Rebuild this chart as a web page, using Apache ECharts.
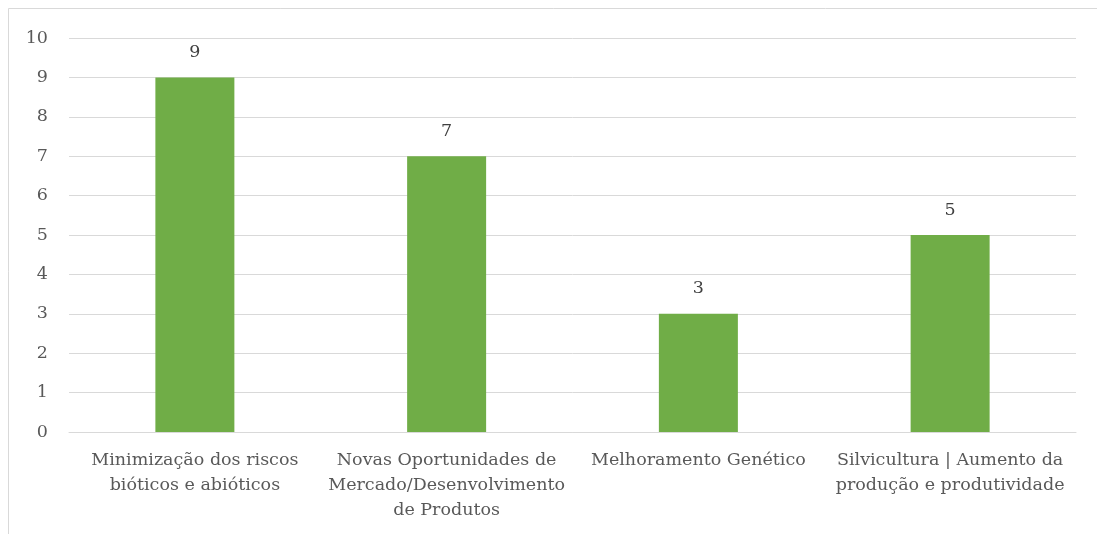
<!DOCTYPE html>
<html>
<head>
<meta charset="utf-8">
<script src="https://cdn.jsdelivr.net/npm/echarts@6/dist/echarts.min.js"></script>
<style>html,body{margin:0;padding:0;background:#fff;}#c{width:1097px;height:534px;}</style>
</head>
<body>
<div id="c"></div>
<script>
const categories = [
  "Minimização dos riscos\nbióticos e abióticos",
  "Novas Oportunidades de\nMercado/Desenvolvimento\nde Produtos",
  "Melhoramento Genético",
  "Silvicultura | Aumento da\nprodução e produtividade"
];
const values = [9, 7, 3, 5];
const yTicks = {min: 0, max: 10, interval: 1};

const font = "'DejaVu Serif', 'Liberation Serif', serif";
const chart = echarts.init(document.getElementById('c'), null, {renderer: 'canvas'});
chart.setOption({
  animation: false,
  backgroundColor: '#fff',
  graphic: [{
    type: 'rect', silent: true,
    shape: {x: 8.5, y: 8.5, width: 1200, height: 600},
    style: {fill: null, stroke: '#d9d9d9', lineWidth: 1}
  }],
  grid: {left: 69, right: 21, top: 38, bottom: 102},
  xAxis: {
    type: 'category',
    data: categories,
    axisLine: {show: true, lineStyle: {color: '#d9d9d9', width: 1}},
    axisTick: {show: false},
    axisLabel: {color: '#595959', fontFamily: font, fontSize: 17.5, lineHeight: 25, margin: 16, interval: 0}
  },
  yAxis: {
    type: 'value',
    min: yTicks.min, max: yTicks.max, interval: yTicks.interval,
    axisLine: {show: false},
    axisTick: {show: false},
    splitLine: {lineStyle: {color: '#d9d9d9', width: 1}},
    axisLabel: {color: '#595959', fontFamily: font, fontSize: 17.5, margin: 21}
  },
  series: [{
    type: 'bar',
    data: values,
    barWidth: 79,
    itemStyle: {color: '#70ad47'},
    label: {show: true, position: 'top', distance: 16, color: '#404040', fontFamily: font, fontSize: 17.5}
  }]
});
</script>
</body>
</html>
